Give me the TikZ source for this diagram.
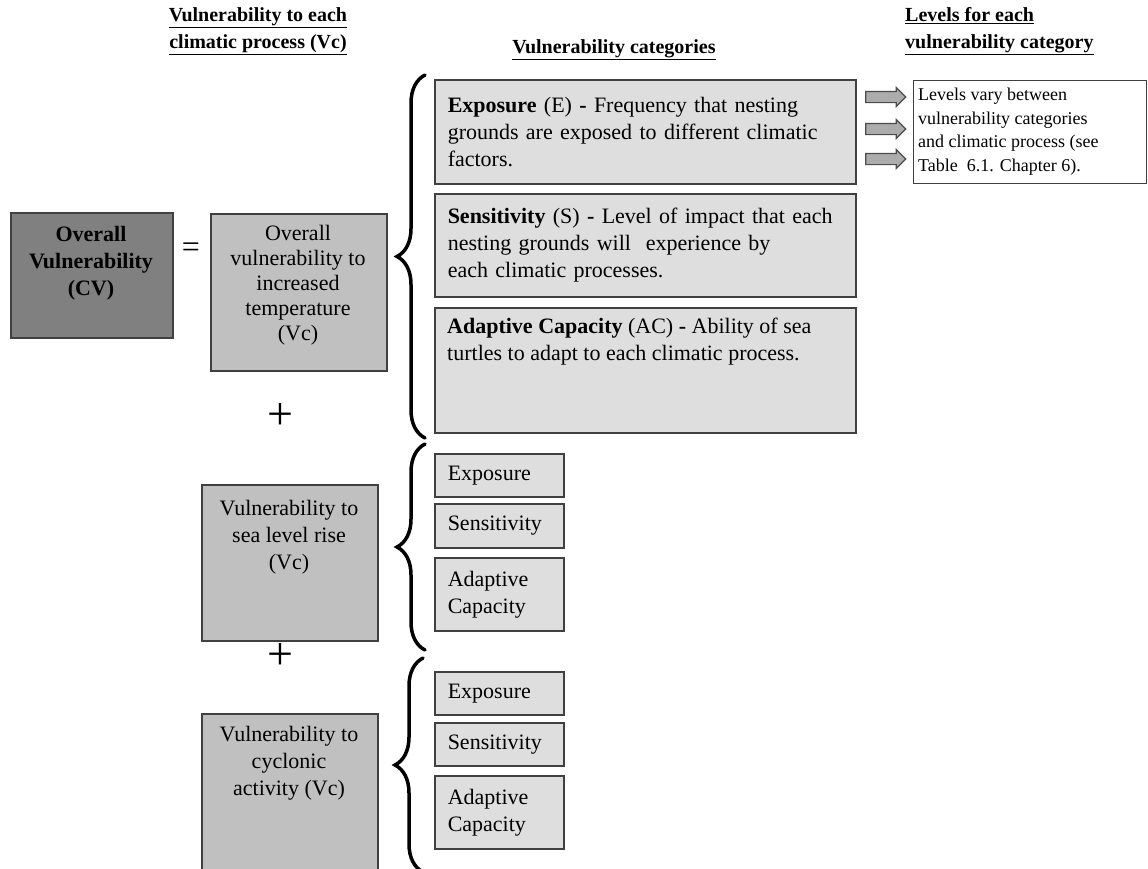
\documentclass[tikz,border=0pt]{standalone}
\usepackage{fontspec}
\setmainfont{Liberation Serif}
\usetikzlibrary{decorations.pathreplacing,shapes.arrows}
\definecolor{boxline}{HTML}{404040}
\definecolor{darkfill}{HTML}{808080}
\definecolor{midfill}{HTML}{C0C0C0}
\definecolor{lightfill}{HTML}{DEDEDE}
\tikzset{
    BX/.style ={rectangle, draw=boxline, line width=1.5pt, inner sep=0pt, anchor=north west},
    CV/.style ={BX, fill=darkfill, minimum width=162pt, minimum height=125pt},
    VC/.style ={BX, fill=midfill, minimum width=176pt},
    CA/.style ={BX, fill=lightfill, text width=395pt, inner xsep=13pt, align=left, font=\fontsize{22}{27}\selectfont},
    SM/.style ={BX, fill=lightfill, text width=103pt, inner xsep=13pt, align=left, font=\fontsize{22}{27}\selectfont},
    TX/.style ={align=left, anchor=north west, inner sep=0pt, font=\fontsize{22}{27}\selectfont},
    TC/.style ={align=center, inner sep=0pt, font=\fontsize{22}{27}\selectfont},
    HD/.style ={inner sep=0pt, font=\fontsize{20}{27}\selectfont\bfseries},
    OP/.style ={inner sep=0pt, font=\fontsize{46}{46}\selectfont},
    AR/.style ={single arrow, draw=gray!60!black, fill=gray!65, line width=1.2pt, inner sep=0pt,
                minimum height=40pt, single arrow head extend=4pt},
    BR/.style ={decorate, decoration={brace, amplitude=28pt}, line width=3.5pt, line cap=round}}

\begin{document}
\begin{tikzpicture}[x=1pt, y=-1pt]
        \path[use as bounding box, clip] (0,0) rectangle (1148,868);
        % headings
        \node[HD, align=center] (h1) at (258,31) {\underline{Vulnerability to each}\\\underline{climatic process (Vc)}};
        \node[HD] (h2) at (614,50) {\underline{Vulnerability categories}};
        \node[HD, align=left, anchor=west] (h3) at (905,31) {\underline{Levels for each}\\\underline{vulnerability category}};
        % overall vulnerability
        \node[CV] (cv) at (10,212) {};
        \node[TC, font=\fontsize{22}{27}\selectfont\bfseries] (cvt) at (91,263) {Overall\\Vulnerability\\(CV)};
        \node[OP, font=\fontsize{32}{32}\selectfont] (eq) at (191,250) {=};
        % climatic processes
        \node[VC, minimum height=157pt] (temp) at (210,213) {};
        \node[TC, font=\fontsize{22}{25}\selectfont] (tempt) at (298,285) {Overall\\vulnerability to\\increased\\temperature\\(Vc)};
        \node[OP] (pl1) at (280,416) {+};
        \node[VC, minimum height=156pt] (slr) at (201,484) {};
        \node[TC] (slrt) at (289,537) {Vulnerability to\\sea level rise\\(Vc)};
        \node[OP] (pl2) at (280,656) {+};
        \node[VC, minimum height=175pt] (cyc) at (201,713) {};
        \node[TC] (cyct) at (289,763) {Vulnerability to\\cyclonic\\activity (Vc)};
        % braces
        \draw[BR] (425,438) -- (425,75);
        \draw[BR] (425,650) -- (425,444);
        \draw[BR] (423,872) -- (423,658);
        % vulnerability categories for temperature
        \node[CA, minimum height=104pt] (ex1) at (434,79)
            {\textbf{Exposure} (E) \textbf{-} Frequency that nesting\\grounds are exposed to different climatic\\factors.};
        \node[CA, minimum height=103pt] (se1) at (434,193)
            {\textbf{Sensitivity} (S) \textbf{-} Level of impact that each\\nesting grounds will\ \ experience by\\each climatic processes.};
        \node[CA, minimum height=125pt] (ac1) at (434,307) {};
        \node[TX] (ac1t) at (447,318) {\textbf{Adaptive Capacity} (AC) \textbf{-} Ability of sea\\turtles to adapt to each climatic process.};
        % sea level rise
        \node[SM, minimum height=43pt] (ex2) at (434,453) {Exposure};
        \node[SM, minimum height=44pt] (se2) at (434,503) {Sensitivity};
        \node[SM, minimum height=73pt] (ac2) at (434,557) {Adaptive\\Capacity};
        % cyclonic activity
        \node[SM, minimum height=43pt] (ex3) at (434,671) {Exposure};
        \node[SM, minimum height=43pt] (se3) at (434,722) {Sensitivity};
        \node[SM, minimum height=73pt] (ac3) at (434,775) {Adaptive\\Capacity};
        % levels
        \node[BX, fill=white, line width=1.2pt, minimum width=233pt, minimum height=103pt] (lv) at (913,80) {};
        \node[TX, font=\fontsize{18}{23.5}\selectfont] (lvt) at (918,88)
            {Levels vary between\\vulnerability categories\\and climatic process (see\\Table\ \ 6.1. Chapter 6).};
        \node[AR] (ar1) at (883,97) {\rule{0pt}{10pt}};
        \node[AR] (ar2) at (883,129) {\rule{0pt}{10pt}};
        \node[AR] (ar3) at (883,159) {\rule{0pt}{10pt}};
\end{tikzpicture}
\end{document}
